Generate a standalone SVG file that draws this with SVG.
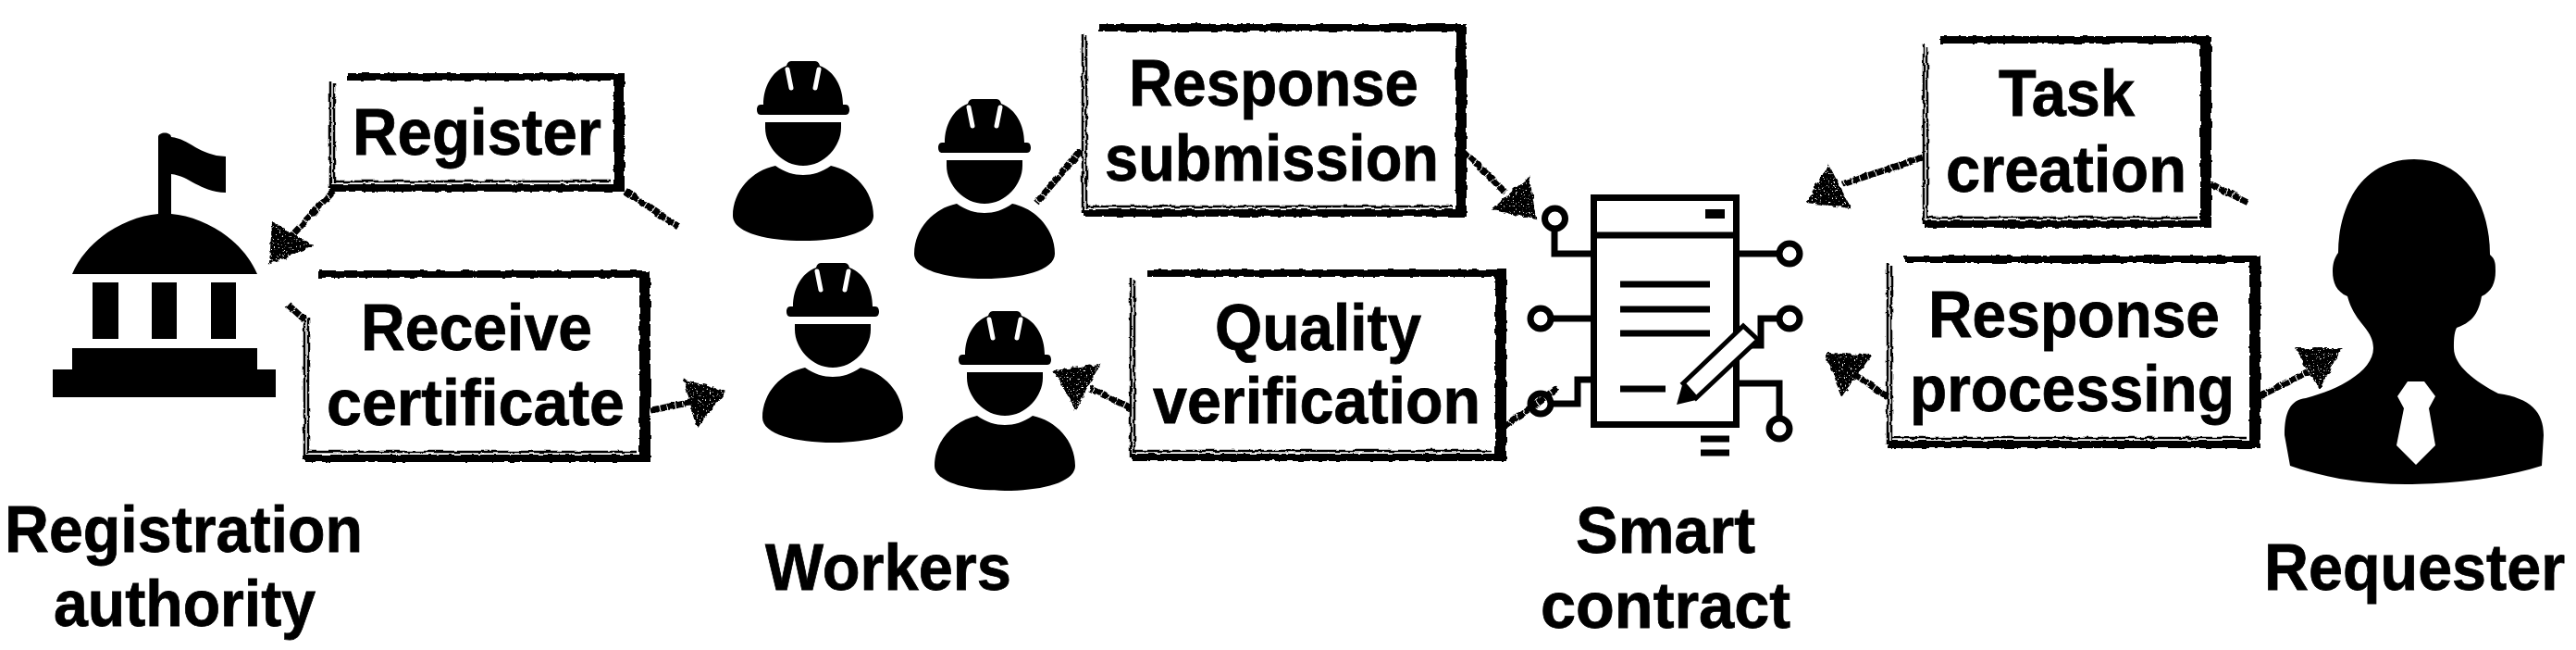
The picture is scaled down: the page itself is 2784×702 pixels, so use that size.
<svg xmlns="http://www.w3.org/2000/svg" xmlns:xlink="http://www.w3.org/1999/xlink" width="2784" height="702" viewBox="0 0 2784 702">
<style>
text{font-family:"Liberation Sans",Arial,sans-serif;font-weight:700;font-size:70px;fill:#000;stroke:#000;stroke-width:.8}
.t{fill:none;stroke:#000;stroke-width:8}
.r{fill:none;stroke:#000;stroke-width:12}
.n{fill:none;stroke:#000;stroke-width:2.5}
.c{fill:none;stroke:#000;stroke-width:7;stroke-dasharray:8 1}
.a{fill:#000;stroke:#000;stroke-width:2}
.i{fill:none;stroke:#000;stroke-width:7}
.s{fill:none;stroke:#fff;stroke-width:5;stroke-linecap:round}
</style>
<defs>
<filter id="rough" filterUnits="userSpaceOnUse" x="0" y="0" width="2784" height="702">
<feTurbulence type="fractalNoise" baseFrequency="0.1" numOctaves="3" seed="4" result="n"/>
<feDisplacementMap in="SourceGraphic" in2="n" scale="4" xChannelSelector="R" yChannelSelector="G"/>
</filter>
<filter id="chalk" filterUnits="userSpaceOnUse" x="0" y="0" width="2784" height="702">
<feTurbulence type="fractalNoise" baseFrequency="0.15" numOctaves="3" seed="9" result="n"/>
<feDisplacementMap in="SourceGraphic" in2="n" scale="6" xChannelSelector="R" yChannelSelector="G" result="d"/>
<feTurbulence type="fractalNoise" baseFrequency="0.55" numOctaves="2" seed="2"/>
<feColorMatrix type="matrix" values="0 0 0 0 0 0 0 0 0 0 0 0 0 0 0 0 0 0 -9 3.3" result="s"/>
<feComposite in="d" in2="s" operator="out"/>
</filter>
<g id="worker">
<path d="M-12 0H12C15 0 17 1 18 5C34 11 43 28 43 47H46C49 47 50 50 50 52.500C50 55 49 58 46 58H-46C-49 58 -50 55 -50 52.500C-50 50 -49 47 -46 47H-43C-43 28 -34 11 -18 5C-17 1 -15 0 -12 0Z"/>
<path class="s" d="M-17 9L-13 29M17 9L13 29"/>
<path d="M-41 66H41V72C41 92 23 113 0 113C-23 113 -41 92 -41 72Z"/>
<path d="M-30 113C-20 120 -10 123 0 123C10 123 20 120 30 113C55 118 76 140 76 167C76 185 40 194 0 194C-40 194 -76 185 -76 167C-76 140 -55 118 -30 113Z"/>
</g>
</defs>
<rect width="2784" height="702" fill="#fff"/>

<g id="connectors">
<g filter="url(#rough)">
<path class="c" d="M360 206L315 255"/>
<path class="c" d="M676 206L733 245"/>
<path class="c" d="M311 329L329 345"/>
<path class="c" d="M704 443L750 434"/>
<path class="c" d="M1168 163L1120 219"/>
<path class="c" d="M1582 163L1627 208"/>
<path class="c" d="M1222 441L1178 419"/>
<path class="c" d="M1626 461L1683 419"/>
<path class="c" d="M2078 170L1991 199"/>
<path class="c" d="M2390 199L2430 219"/>
<path class="c" d="M2040 429L2006 405"/>
<path class="c" d="M2442 428L2495 401"/>
</g>
<g filter="url(#chalk)">
<polygon class="a" points="295,240 337,266 292,284"/>
<polygon class="a" points="740,411 783,423 754,459"/>
<polygon class="a" points="1652,192 1659,236 1614,226"/>
<polygon class="a" points="1140,401 1188,394 1163,441"/>
<polygon class="a" points="1976,179 1999,224 1953,218"/>
<polygon class="a" points="1973,383 2021,384 1991,426"/>
<polygon class="a" points="2482,377 2530,377 2507,419"/>
</g>
</g>

<g id="registration-authority">
<path d="M171 148C171 142 185 142 185 148C205 150 215 168 244 169V208C215 207 205 190 185 188V231C220 234 262 258 278 296H78C94 258 136 234 171 231Z"/>
<rect x="100" y="305" width="28" height="61"/>
<rect x="164" y="305" width="27" height="61"/>
<rect x="228" y="305" width="27" height="61"/>
<path d="M78 376H278V399H298V429H57V399H78Z"/>
<text x="5" y="596" textLength="387" lengthAdjust="spacingAndGlyphs">Registration</text>
<text x="58" y="676" textLength="283" lengthAdjust="spacingAndGlyphs">authority</text>
</g>

<g id="box-register">
<g filter="url(#rough)"><path class="t" d="M375 83H671M358 203H675"/><path class="r" d="M669 80V207"/><path class="n" d="M357 88V203M361 90V198M361 196H660"/></g>
<text x="381" y="167" textLength="269" lengthAdjust="spacingAndGlyphs">Register</text>
</g>
<g id="box-receive-certificate">
<g filter="url(#rough)"><path class="t" d="M345 296H699M330 495H703"/><path class="r" d="M697 293V499"/><path class="n" d="M329 340V495M333 342V490M333 488H688"/></g>
<text x="390" y="378" textLength="250" lengthAdjust="spacingAndGlyphs">Receive</text>
<text x="353" y="459" textLength="322" lengthAdjust="spacingAndGlyphs">certificate</text>
</g>

<g id="workers">
<use xlink:href="#worker" href="#worker" x="868" y="66"/>
<use xlink:href="#worker" href="#worker" x="1064" y="107"/>
<use xlink:href="#worker" href="#worker" x="900" y="284"/>
<use xlink:href="#worker" href="#worker" x="1086" y="336"/>
<text x="827" y="637" textLength="266" lengthAdjust="spacingAndGlyphs">Workers</text>
</g>

<g id="box-response-submission">
<g filter="url(#rough)"><path class="t" d="M1188 30H1581M1171 230H1585"/><path class="r" d="M1579 26V234"/><path class="n" d="M1170 36V230M1174 38V225M1174 223H1570"/></g>
<text x="1220" y="114" textLength="313" lengthAdjust="spacingAndGlyphs">Response</text>
<text x="1194" y="195" textLength="361" lengthAdjust="spacingAndGlyphs">submission</text>
</g>
<g id="box-quality-verification">
<g filter="url(#rough)"><path class="t" d="M1240 295H1624M1223 494H1628"/><path class="r" d="M1622 290V498"/><path class="n" d="M1222 300V494M1226 302V489M1226 487H1613"/></g>
<text x="1313" y="378" textLength="223" lengthAdjust="spacingAndGlyphs">Quality</text>
<text x="1246" y="457" textLength="354" lengthAdjust="spacingAndGlyphs">verification</text>
</g>

<g id="smart-contract">
<rect class="i" x="1722.500" y="213.500" width="154" height="245"/>
<path class="i" d="M1722 254H1877M1751 307H1848M1751 334H1848M1751 360H1848M1751 420H1800M1838 474H1869M1838 489H1869"/>
<rect x="1843" y="226" width="21" height="10"/>
<path class="i" d="M1680 248V274H1719M1678 344H1719M1678 436H1705V410H1719M1880 274H1921M1880 373H1903V344H1921M1880 414H1923V449"/>
<circle class="i" cx="1680.500" cy="236" r="11"/>
<circle class="i" cx="1665" cy="344" r="11"/>
<circle class="i" cx="1665" cy="436" r="11"/>
<circle class="i" cx="1934" cy="274" r="11"/>
<circle class="i" cx="1934" cy="344" r="11"/>
<circle class="i" cx="1923" cy="463" r="11"/>
<polygon points="1819,414 1884,352 1900,367 1833,430" fill="#fff" stroke="#000" stroke-width="5"/>
<polygon points="1812,437 1818,416 1833,432"/>
<text x="1703" y="597" textLength="194" lengthAdjust="spacingAndGlyphs">Smart</text>
<text x="1665" y="678" textLength="270" lengthAdjust="spacingAndGlyphs">contract</text>
</g>

<g id="box-task-creation">
<g filter="url(#rough)"><path class="t" d="M2097 43H2386M2080 242H2390"/><path class="r" d="M2384 40V246"/><path class="n" d="M2079 48V242M2083 50V237M2083 235H2375"/></g>
<text x="2160" y="125" textLength="147" lengthAdjust="spacingAndGlyphs">Task</text>
<text x="2103" y="207" textLength="260" lengthAdjust="spacingAndGlyphs">creation</text>
</g>
<g id="box-response-processing">
<g filter="url(#rough)"><path class="t" d="M2058 280H2439M2041 480H2443"/><path class="r" d="M2437 277V484"/><path class="n" d="M2040 285V480M2044 287V475M2044 473H2428"/></g>
<text x="2084" y="364" textLength="315" lengthAdjust="spacingAndGlyphs">Response</text>
<text x="2064" y="444" textLength="351" lengthAdjust="spacingAndGlyphs">processing</text>
</g>

<g id="requester">
<path d="M2609 172C2665 172 2691 222 2691 275C2697 280 2697 285 2697 293C2697 305 2693 315 2682 320C2678 345 2665 350 2655 354C2652 360 2652 368 2652 376C2652 395 2675 412 2700 425C2735 430 2749 445 2749 470L2747 503C2700 518 2640 523 2600 523C2550 523 2510 515 2475 503L2469 470C2469 445 2475 432 2492 430C2530 420 2565 400 2565 376C2565 355 2545 350 2537 320C2525 315 2521 305 2521 293C2521 283 2524 277 2527 273C2527 222 2553 172 2609 172Z"/>
<polygon fill="#fff" points="2602,412 2620,412 2632,428 2625,441 2632,481 2611,502 2590,481 2598,441 2591,428"/>
<text x="2447" y="637" textLength="325" lengthAdjust="spacingAndGlyphs">Requester</text>
</g>
</svg>
